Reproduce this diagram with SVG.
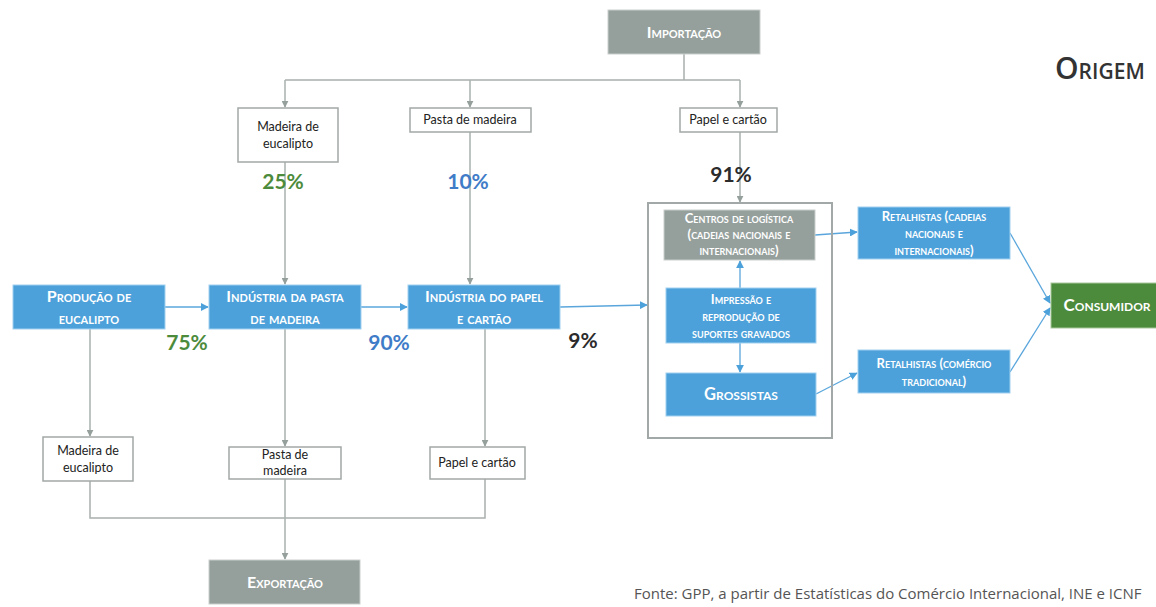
<svg xmlns="http://www.w3.org/2000/svg" width="1156" height="607" viewBox="0 0 1156 607">
<defs>
<marker id="ag" viewBox="0 0 10 10" refX="9" refY="5" markerWidth="7" markerHeight="7" orient="auto" markerUnits="userSpaceOnUse"><path d="M0,0 L10,5 L0,10 z" fill="#959f9c"/></marker>
<marker id="ab" viewBox="0 0 10 10" refX="9" refY="5" markerWidth="8" markerHeight="8" orient="auto" markerUnits="userSpaceOnUse"><path d="M0,0 L10,5 L0,10 z" fill="#4da1da"/></marker>
<style>
.gbox{fill:#959f9c;stroke:#c9cfcd;stroke-width:1}
.bbox{fill:#4da1da;stroke:#9fd0ef;stroke-width:1}
.grbox{fill:#4d8b3c;stroke:#a8c79c;stroke-width:1}
.wbox{fill:#fff;stroke:#a2a8a7;stroke-width:1.5}
.t{font-family:"Lato","Open Sans",sans-serif;font-weight:bold;font-variant:small-caps;fill:#fff;text-anchor:middle}
.s{font-family:"Lato","Open Sans",sans-serif;font-size:12.5px;fill:#222;text-anchor:middle}
.p{font-family:"Lato","Open Sans",sans-serif;font-weight:bold;font-size:21px;text-anchor:middle}
.cg{fill:none;stroke:#a9b0ae;stroke-width:1.5}
.cb{fill:none;stroke:#5aa6dc;stroke-width:1.3}
</style>
</defs>
<rect width="1156" height="607" fill="#fff"/>
<g id="connectors">
<path class="cg" d="M684,54 V80 M285,80 H740"/>
<path class="cg" d="M285,80 V107" marker-end="url(#ag)"/>
<path class="cg" d="M470,80 V107" marker-end="url(#ag)"/>
<path class="cg" d="M740,80 V107" marker-end="url(#ag)"/>
<path class="cg" d="M285,162 V284" marker-end="url(#ag)"/>
<path class="cg" d="M470,132 V284" marker-end="url(#ag)"/>
<path class="cg" d="M740,132 V202" marker-end="url(#ag)"/>
<path class="cb" d="M165,307 H208" marker-end="url(#ab)"/>
<path class="cb" d="M361,307 H407" marker-end="url(#ab)"/>
<path class="cb" d="M560,307 L647,305" marker-end="url(#ab)"/>
<path class="cb" d="M740,288 V261" marker-end="url(#ab)"/>
<path class="cb" d="M740,343 V372" marker-end="url(#ab)"/>
<path class="cb" d="M815,235 L857,232" marker-end="url(#ab)"/>
<path class="cb" d="M816,394 L857,373" marker-end="url(#ab)"/>
<path class="cb" d="M1010,233 L1050,303" marker-end="url(#ab)"/>
<path class="cb" d="M1010,372 L1050,308" marker-end="url(#ab)"/>
<path class="cg" d="M90,329 V436" marker-end="url(#ag)"/>
<path class="cg" d="M285,329 V446" marker-end="url(#ag)"/>
<path class="cg" d="M485,329 V446" marker-end="url(#ag)"/>
<path class="cg" d="M90,481 V518 H485 V479"/>
<path class="cg" d="M285,479 V559" marker-end="url(#ag)"/>
</g>
<g id="importacao"><rect class="gbox" x="608" y="10" width="152" height="44"/><text class="t" x="684" y="38" font-size="16">Importação</text></g>
<text x="1055" y="79" font-family="'Open Sans',sans-serif" font-weight="600" font-variant="small-caps" font-size="30" fill="#333">Origem</text>
<g id="imp-madeira"><rect class="wbox" x="238" y="108" width="100" height="54"/><text class="s" x="288" y="131">Madeira de</text><text class="s" x="288" y="148">eucalipto</text></g>
<g id="imp-pasta"><rect class="wbox" x="410" y="108" width="121" height="24"/><text class="s" x="470" y="124">Pasta de madeira</text></g>
<g id="imp-papel"><rect class="wbox" x="680" y="108" width="97" height="24"/><text class="s" x="728" y="124">Papel e cartão</text></g>
<text class="p" x="283" y="189" fill="#4d8b3c">25%</text>
<text class="p" x="468" y="189" fill="#3f7cc8">10%</text>
<text class="p" x="731" y="182" fill="#2b2b2b">91%</text>
<g id="producao"><rect class="bbox" x="13" y="285" width="152" height="44"/><text class="t" x="89" y="302" font-size="16">Produção de</text><text class="t" x="89" y="324" font-size="16">eucalipto</text></g>
<g id="ind-pasta"><rect class="bbox" x="209" y="285" width="152" height="44"/><text class="t" x="285" y="302" font-size="16">Indústria da pasta</text><text class="t" x="285" y="324" font-size="16">de madeira</text></g>
<g id="ind-papel"><rect class="bbox" x="408" y="285" width="152" height="44"/><text class="t" x="484" y="302" font-size="16">Indústria do papel</text><text class="t" x="484" y="324" font-size="16">e cartão</text></g>
<text class="p" x="187" y="350" fill="#4d8b3c">75%</text>
<text class="p" x="389" y="350" fill="#3f7cc8">90%</text>
<text class="p" x="583" y="348" fill="#2b2b2b">9%</text>
<g id="container"><rect x="648" y="203" width="184" height="235" fill="none" stroke="#a2a8a7" stroke-width="2"/></g>
<g id="centros"><rect class="gbox" x="664" y="210" width="151" height="50"/><text class="t" x="739" y="223" font-size="13">Centros de logística</text><text class="t" x="739" y="239" font-size="13">(cadeias nacionais e</text><text class="t" x="739" y="255" font-size="13">internacionais)</text></g>
<g id="impressao"><rect class="bbox" x="666" y="288" width="150" height="55"/><text class="t" x="741" y="304" font-size="13">Impressão e</text><text class="t" x="741" y="321" font-size="13">reprodução de</text><text class="t" x="741" y="338" font-size="13">suportes gravados</text></g>
<g id="grossistas"><rect class="bbox" x="666" y="373" width="150" height="43"/><text class="t" x="741" y="400" font-size="16.5">Grossistas</text></g>
<g id="ret-cadeias"><rect class="bbox" x="858" y="207" width="152" height="52"/><text class="t" x="934" y="221" font-size="13">Retalhistas (cadeias</text><text class="t" x="934" y="238" font-size="13">nacionais e</text><text class="t" x="934" y="255" font-size="13">internacionais)</text></g>
<g id="ret-comercio"><rect class="bbox" x="858" y="350" width="152" height="43"/><text class="t" x="934" y="368" font-size="13">Retalhistas (comércio</text><text class="t" x="934" y="386" font-size="13">tradicional)</text></g>
<g id="consumidor"><rect class="grbox" x="1051" y="283" width="110" height="45"/><text class="t" x="1107" y="311" font-size="17">Consumidor</text></g>
<g id="exp-madeira"><rect class="wbox" x="43" y="437" width="90" height="44"/><text class="s" x="88" y="455">Madeira de</text><text class="s" x="88" y="472">eucalipto</text></g>
<g id="exp-pasta"><rect class="wbox" x="229" y="447" width="112" height="32"/><text class="s" x="285" y="459">Pasta de</text><text class="s" x="285" y="475">madeira</text></g>
<g id="exp-papel"><rect class="wbox" x="430" y="447" width="95" height="32"/><text class="s" x="477" y="467">Papel e cartão</text></g>
<g id="exportacao"><rect class="gbox" x="209" y="560" width="151" height="44"/><text class="t" x="285" y="588" font-size="16">Exportação</text></g>
<text x="634" y="599" font-family="'Open Sans',sans-serif" font-size="15" fill="#555">Fonte: GPP, a partir de Estatísticas do Comércio Internacional, INE e ICNF</text>
</svg>
